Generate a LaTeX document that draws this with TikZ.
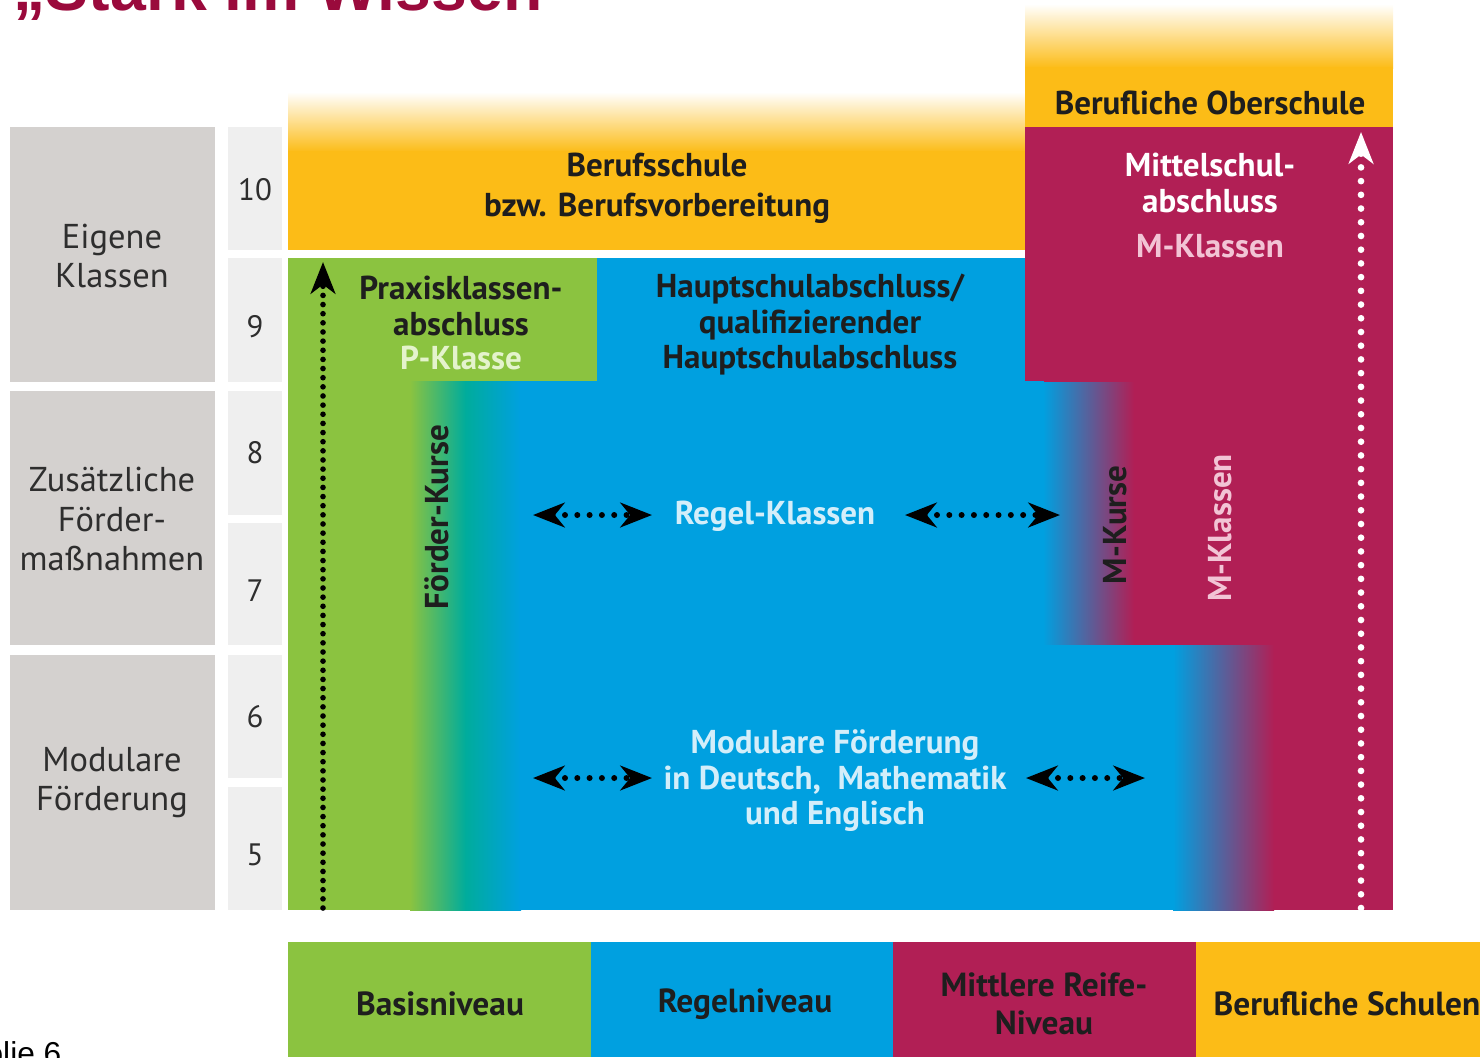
\documentclass[tikz,border=0pt]{standalone}
\usepackage{fontspec}
\setmainfont{PT Sans}
\newfontfamily\titelfont{Liberation Sans}
\usetikzlibrary{arrows.meta}

\definecolor{schulgelb}{HTML}{FCBC17}
\definecolor{mittelrot}{HTML}{B11F55}
\definecolor{regelblau}{HTML}{00A0E0}
\definecolor{basisgruen}{HTML}{8BC340}
\definecolor{uebergang}{HTML}{00AC9C}
\definecolor{seitengrau}{HTML}{D4D1CF}
\definecolor{zahlgrau}{HTML}{EFEFEF}
\definecolor{dunkel}{HTML}{1E1E1E}
\definecolor{grautext}{HTML}{2E2E2E}
\definecolor{titelrot}{HTML}{9A0A3C}
\definecolor{hellblau}{HTML}{D3EEFA}
\definecolor{hellrosa}{HTML}{F2C4D5}
\definecolor{hellgruen}{HTML}{E4F3CC}

\begin{document}
\begin{tikzpicture}[x=0.01cm,y=-0.01cm]
  \tikzset{
    stufe/.style={font=\bfseries\fontsize{9.4}{10.1}\selectfont, text=dunkel, align=center, inner sep=0pt},
    seite/.style={font=\fontsize{9.8}{11.1}\selectfont, text=grautext, align=center, inner sep=0pt},
    zahl/.style={font=\fontsize{8.8}{10}\selectfont, text=grautext, inner sep=0pt},
    fuss/.style={font=\bfseries\fontsize{9.5}{10.8}\selectfont, text=dunkel, align=center, inner sep=0pt},
    punktpfeil/.style={line width=1.7pt, line cap=round, dash pattern=on 0pt off 3.5pt,
      {Stealth[length=9pt,width=7pt,inset=2.8pt]}-{Stealth[length=9pt,width=7pt,inset=2.8pt]}},
    hochpfeil/.style={line width=#1, line cap=round,
      -{Stealth[length=9pt,width=7pt,inset=2.6pt]}}
  }
  \useasboundingbox (0,0) rectangle (1480,1057);

  % Titel und Folienzahl, angeschnitten
  \node [anchor=base west, inner sep=0pt, text=titelrot, font=\titelfont\bfseries\fontsize{18.3}{20}\selectfont] (titel) at (13,10) {„Stark im Wissen};
  \node [anchor=base east, inner sep=0pt, text=black, font=\titelfont\fontsize{9}{10}\selectfont] (folie) at (62,1064) {Folie 6};

  % linke Spalten
  \fill [seitengrau] (10,127) rectangle (215,382);
  \fill [seitengrau] (10,391) rectangle (215,645);
  \fill [seitengrau] (10,655) rectangle (215,910);
  \foreach \ya/\yb in {127/250, 258/382, 391/515, 523/645, 655/778, 787/910}
    \fill [zahlgrau] (228,\ya) rectangle (282,\yb);

  % Berufsschule und Berufliche Oberschule
  \shade [top color=white, bottom color=schulgelb] (288,92) rectangle (1025,152);
  \fill [schulgelb] (288,151) rectangle (1025,250);
  \shade [top color=white, bottom color=schulgelb] (1025,4) rectangle (1393,68);
  \fill [schulgelb] (1025,67) rectangle (1393,127);

  % Mittlere-Reife-Zweig
  \fill [mittelrot] (1025,127) rectangle (1393,910);

  % Basis- und Regelzweig
  \fill [basisgruen] (288,258) rectangle (597,382);
  \fill [basisgruen] (288,381) rectangle (411,910);
  \shade [left color=basisgruen, right color=regelblau, middle color=uebergang] (410,381) rectangle (521,910);
  \fill [regelblau] (597,258) rectangle (1025,383);
  \fill [regelblau] (520,381) rectangle (1044,646);
  \shade [left color=regelblau, right color=mittelrot] (1043,382) rectangle (1134,646);
  \fill [regelblau] (520,645) rectangle (1174,910);
  \shade [left color=regelblau, right color=mittelrot] (1173,645) rectangle (1274,910);

  % Beschriftungen
  \node [seite] (eigene) at (112,256) {Eigene\\Klassen};
  \node [seite] (zusatz) at (112,519) {Zusätzliche\\Förder-\\maßnahmen};
  \node [seite] (modular) at (112,783) {Modulare\\Förderung};
  \foreach \z/\y in {10/190, 9/327, 8/453, 7/591, 6/717, 5/855}
    \node [zahl] (kl\z) at (255,\y) {\z};

  \node [stufe, font=\bfseries\fontsize{9.4}{11.4}\selectfont] (berufsschule) at (657,188) {Berufsschule\\bzw. Berufsvorbereitung};
  \node [stufe] (oberschule) at (1210,103) {Berufliche Oberschule};
  \node [stufe, text=white] (mabschluss) at (1210,183) {Mittelschul-\\abschluss};
  \node [stufe, text=hellrosa] (mklassen) at (1210,246) {M-Klassen};
  \node [stufe] (pabschluss) at (461,306) {Praxisklassen-\\abschluss};
  \node [stufe, text=hellgruen] (pklasse) at (461,358) {P-Klasse};
  \node [stufe] (habschluss) at (810,325) {Hauptschulabschluss/\\qualifizierender\\Hauptschulabschluss};
  \node [stufe, rotate=90] (foerderkurse) at (437,517) {Förder-Kurse};
  \node [stufe, text=hellblau] (regel) at (775,516) {Regel-Klassen};
  \node [stufe, rotate=90] (mkurse) at (1115,525) {M-Kurse};
  \node [stufe, rotate=90, text=hellrosa] (mklassenv) at (1220,528) {M-Klassen};
  \node [stufe, text=hellblau] (modfoerd) at (835,781) {Modulare Förderung\\in Deutsch,\ \ Mathematik\\und Englisch};

  % Pfeile
  \coordinate (rkL1) at (533,515); \coordinate (rkL2) at (652,515);
  \coordinate (rkR1) at (905,515); \coordinate (rkR2) at (1060,515);
  \coordinate (mfL1) at (533,778); \coordinate (mfL2) at (652,778);
  \coordinate (mfR1) at (1026,778); \coordinate (mfR2) at (1145,778);
  \coordinate (pUnten) at (323,908); \coordinate (pOben) at (323,262);
  \coordinate (mUnten) at (1361,908); \coordinate (mOben) at (1361,132);
  \draw [punktpfeil] (rkL1) -- (rkL2);
  \draw [punktpfeil] (rkR1) -- (rkR2);
  \draw [punktpfeil] (mfL1) -- (mfL2);
  \draw [punktpfeil] (mfR1) -- (mfR2);
  \draw [hochpfeil=1.6pt, dash pattern=on 0pt off 2.6pt] (pUnten) -- (pOben);
  \draw [hochpfeil=1.9pt, white, dash pattern=on 0pt off 3.9pt] (mUnten) -- (mOben);

  % Niveaus
  \fill [basisgruen] (288,942) rectangle (592,1057);
  \fill [regelblau] (591,942) rectangle (894,1057);
  \fill [mittelrot] (893,942) rectangle (1197,1057);
  \fill [schulgelb] (1196,942) rectangle (1480,1057);
  \node [fuss] (basis) at (440,1004) {Basisniveau};
  \node [fuss] (regelniv) at (745,1004) {Regelniveau};
  \node [fuss] (mreife) at (1044,1004) {Mittlere Reife-\\Niveau};
  \node [fuss] (bschulen) at (1347,1004) {Berufliche Schulen};
\end{tikzpicture}
\end{document}
